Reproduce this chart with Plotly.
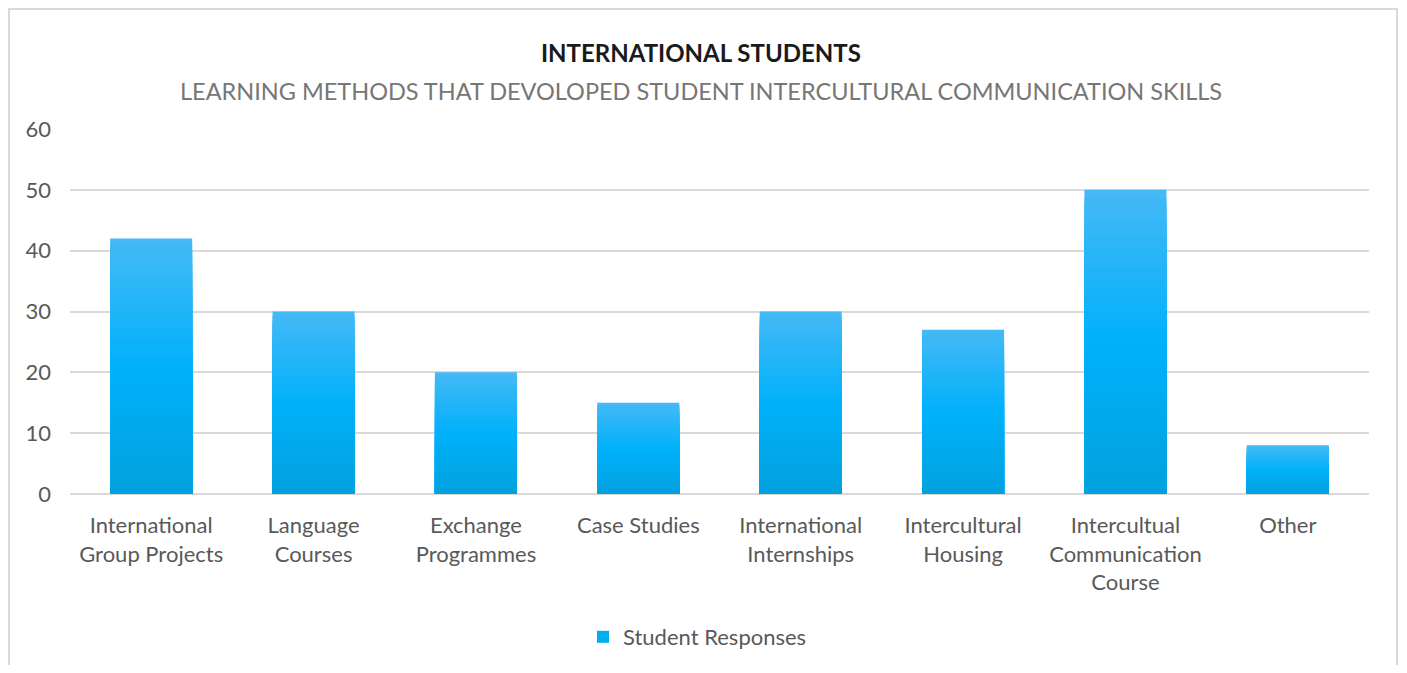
import plotly.graph_objects as go

categories = ["International<br>Group Projects", "Language<br>Courses", "Exchange<br>Programmes",
              "Case Studies", "International<br>Internships", "Intercultural<br>Housing",
              "Intercultual<br>Communication<br>Course", "Other"]
responses = [42, 30, 20, 15, 30, 27, 50, 8]
series_name = "Student Responses"
y_ticks = [0, 10, 20, 30, 40, 50, 60]

FONT = "Lato"
OFF = 8  # page body margin
W, H = 1407 - 2 * OFF, 673 - 2 * OFF
L, R, T, B = 62, 30, 121, 171
pw, ph = W - L - R, H - T - B


def px_x(p):  # page pixel -> paper
    return (p - OFF - L) / pw


def px_y(p):
    return (H - B - (p - OFF)) / ph


# gradient stops (fraction from bottom, rgb)
stops = [(0.0, (2, 161, 222)), (0.5, (0, 177, 250)), (1.0, (70, 185, 246))]


def color_at(f):
    for (f0, c0), (f1, c1) in zip(stops[:-1], stops[1:]):
        if f0 <= f <= f1:
            t = (f - f0) / (f1 - f0)
            c = [round(a + (b - a) * t) for a, b in zip(c0, c1)]
            return f"rgb({c[0]},{c[1]},{c[2]})"
    return "rgb(0,176,240)"


N = 40
fig = go.Figure()
for k in range(N):
    frac = (N - k) / N
    fig.add_trace(go.Bar(
        x=categories,
        y=[v * frac for v in responses],
        marker=dict(color=color_at(frac - 0.5 / N), line=dict(width=0)),
        showlegend=False,
        hoverinfo="skip",
    ))
# legend entry
fig.add_trace(go.Bar(
    x=categories, y=[None] * len(categories), name=series_name,
    marker=dict(color="rgb(0,174,240)", line=dict(width=0)), showlegend=True,
))

fig.update_layout(
    width=W, height=H,
    margin=dict(l=L, r=R, t=T, b=B, autoexpand=False),
    paper_bgcolor="white", plot_bgcolor="white",
    barmode="overlay", bargap=0.495,
    font=dict(family=FONT, size=22, color="#595959"),
    showlegend=True,
    legend=dict(orientation="h", x=px_x(583), xanchor="left", y=px_y(637), yanchor="middle",
                font=dict(family=FONT, size=22, color="#595959"), itemwidth=30),
    xaxis=dict(showgrid=False, showline=False, ticks="", tickfont=dict(size=22, color="#595959"),
               ticklabelstandoff=16, automargin=False),
    yaxis=dict(range=[0, 60], tickvals=y_ticks, showgrid=True, gridcolor="#d9d9d9", gridwidth=1.5,
               zeroline=True, zerolinecolor="#d9d9d9", zerolinewidth=1.5, showline=False,
               tickfont=dict(size=22, color="#595959"), ticklabelstandoff=18, automargin=False),
    annotations=[
        dict(text="<b>INTERNATIONAL STUDENTS</b>", xref="paper", yref="paper",
             x=px_x(701), y=px_y(53), xanchor="center", yanchor="middle", showarrow=False,
             font=dict(family=FONT, size=24, color="#1a1a1a")),
        dict(text="LEARNING METHODS THAT DEVOLOPED STUDENT INTERCULTURAL COMMUNICATION SKILLS",
             xref="paper", yref="paper", x=px_x(701), y=px_y(91), xanchor="center", yanchor="middle",
             showarrow=False, font=dict(family=FONT, size=23.5, color="#767676")),
    ],
    shapes=[
        dict(type="rect", xref="paper", yref="paper", x0=px_x(9), x1=px_x(1397),
             y0=px_y(700), y1=px_y(9), line=dict(color="#d9d9d9", width=2), layer="below"),
    ],
)

fig.write_html("out.html")
